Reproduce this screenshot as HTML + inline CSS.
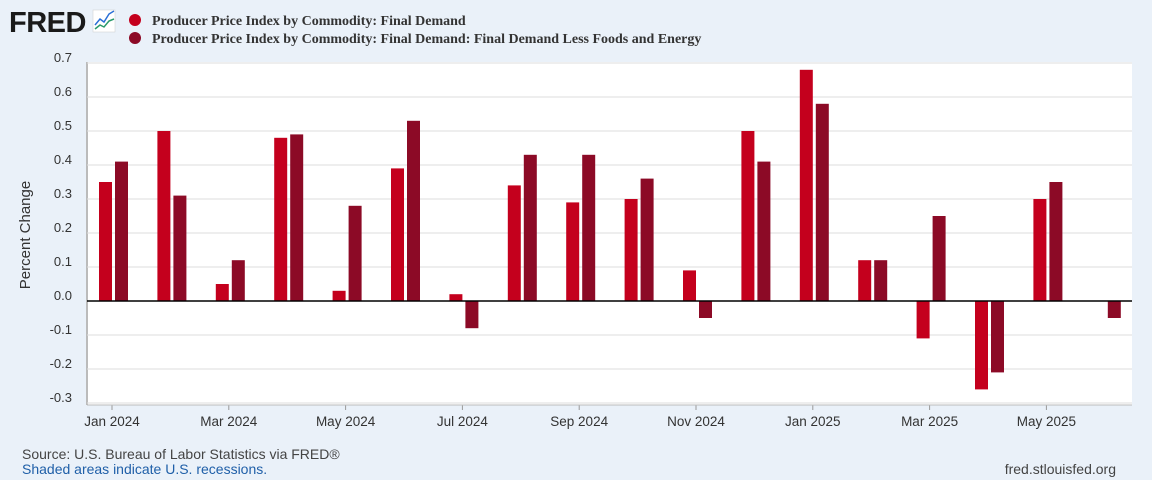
<!DOCTYPE html>
<html><head><meta charset="utf-8"><style>
body{margin:0;background:#eaf1f9;width:1152px;height:480px;overflow:hidden;font-family:"Liberation Sans",sans-serif}
</style></head><body>
<svg width="1152" height="480" style="position:absolute;left:0;top:0">
<g>
<text x="9" y="32" font-size="29" font-weight="bold" fill="#1a1a1a" font-family="Liberation Sans" letter-spacing="-0.5">FRED</text>
<rect x="93" y="10" width="22" height="22" fill="#fff" stroke="#ccc" stroke-width="0.5"/>
<polyline points="95,25 100,19 104,22 109,14 114,11" fill="none" stroke="#2a6fd6" stroke-width="1.5"/>
<polyline points="95,29 100,25 104,27 109,21 114,19" fill="none" stroke="#2a9a6a" stroke-width="1.5"/>
</g>
<g font-family="Liberation Serif" font-weight="bold" font-size="14" fill="#333">
<g><circle cx="135" cy="20" r="6" fill="#c4001d"/><text x="152" y="25">Producer Price Index by Commodity: Final Demand</text></g>
<g><circle cx="135" cy="38" r="6" fill="#8c0a26"/><text x="152" y="43">Producer Price Index by Commodity: Final Demand: Final Demand Less Foods and Energy</text></g>
</g>
<rect x="87" y="62" width="1045" height="343" fill="#fff"/>
<line x1="87" y1="62" x2="87" y2="405" stroke="#bbb" stroke-width="2"/>
<g id="grid"></g><g id="bars"></g><g id="axes"></g>
<text transform="translate(30,235) rotate(-90)" text-anchor="middle" font-size="15" fill="#333">Percent Change</text>
<text x="22" y="459" font-size="14" fill="#444">Source: U.S. Bureau of Labor Statistics via FRED®</text>
<text x="22" y="474" font-size="14" fill="#1f5fa8">Shaded areas indicate U.S. recessions.</text>
<text x="1116" y="474" text-anchor="end" font-size="14" fill="#444">fred.stlouisfed.org</text>
</svg>
<script>
const months=["Jan 2024","Feb 2024","Mar 2024","Apr 2024","May 2024","Jun 2024","Jul 2024","Aug 2024","Sep 2024","Oct 2024","Nov 2024","Dec 2024","Jan 2025","Feb 2025","Mar 2025","Apr 2025","May 2025","Jun 2025"];
const finalDemand=[0.35,0.50,0.05,0.48,0.03,0.39,0.02,0.34,0.29,0.30,0.09,0.50,0.68,0.12,-0.11,-0.26,0.30,0];
const lessFoodEnergy=[0.41,0.31,0.12,0.49,0.28,0.53,-0.08,0.43,0.43,0.36,-0.05,0.41,0.58,0.12,0.25,-0.21,0.35,-0.05];
const yTicks=[0.7,0.6,0.5,0.4,0.3,0.2,0.1,0.0,-0.1,-0.2,-0.3];
const NS="http://www.w3.org/2000/svg";
const y=v=>301-v*340;
const x=i=>112+i*58.4;
function mk(t,a,p){const e=document.createElementNS(NS,t);for(const k in a)e.setAttribute(k,a[k]);p.appendChild(e);return e;}
const g=document.getElementById('grid'),b=document.getElementById('bars'),ax=document.getElementById('axes');
yTicks.forEach(v=>{
 const l=mk('line',{x1:87,x2:1132,y1:y(v),y2:y(v),stroke:'#ddd'},g);
 
 
 const t=mk('text',{x:72,y:y(v)-1,'text-anchor':'end','font-size':13,fill:'#333'},ax);
 t.textContent=v.toFixed(1);
 
 
});
function bar(v,x0,fill,name){
 const r=mk('rect',{x:x0,width:13,y:Math.min(y(v),y(0)),height:Math.abs(y(v)-y(0)),fill:fill},b);
 
 
}
months.forEach((m,i)=>{
 bar(finalDemand[i],x(i)-13,'#c4001d','bar-final-demand');
 bar(lessFoodEnergy[i],x(i)+3,'#8c0a26','bar-less-foods-energy');
 if(i%2==0){
  mk('line',{x1:x(i),x2:x(i),y1:405,y2:410,stroke:'#999'},ax);
  const t=mk('text',{x:x(i),y:426,'text-anchor':'middle','font-size':13.5,fill:'#333'},ax);
  t.textContent=m;
  
  
 }
});
const z=mk('line',{x1:87,x2:1132,y1:y(0),y2:y(0),stroke:'#000','stroke-width':1.5},ax);


mk('line',{x1:87,x2:1132,y1:405,y2:405,stroke:'#bbb'},ax);
</script>
</body></html>
